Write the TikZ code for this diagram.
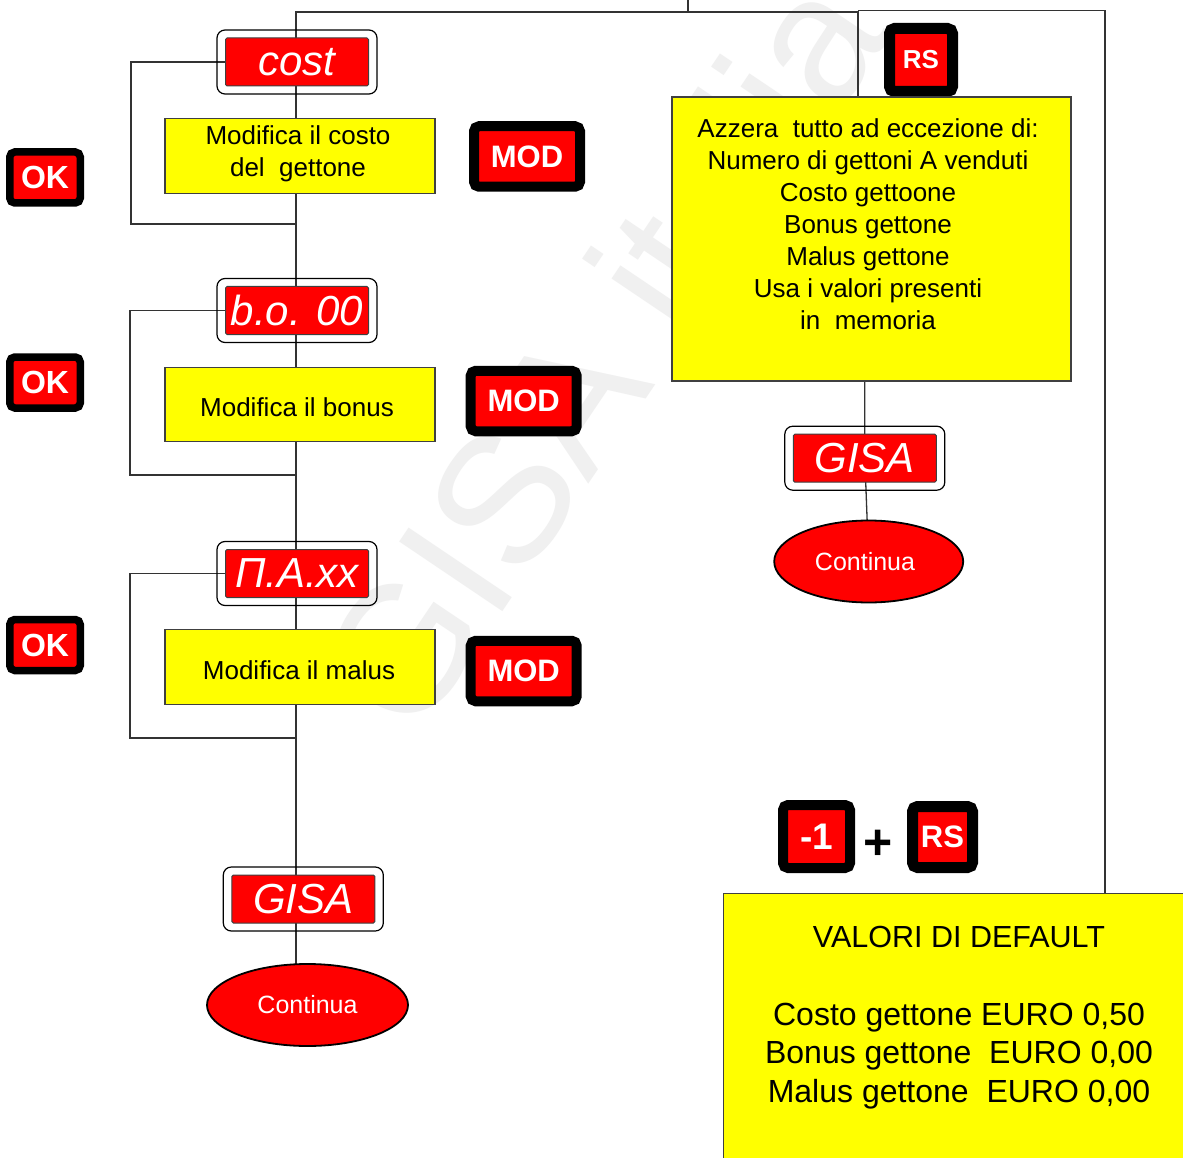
\documentclass[tikz,border=0pt]{standalone}
\usepackage{fontspec}
\setmainfont{Liberation Sans}
\usetikzlibrary{shapes.geometric,backgrounds}
\newcommand\myfs[2]{\fontsize{#1}{#2}\selectfont}
\definecolor{yel}{RGB}{255,255,0}
\definecolor{rd}{RGB}{255,0,0}
\begin{document}
\begin{tikzpicture}[x=1pt,y=-1pt,
 ln/.style={draw=black!80,line width=1.3pt},
 ybox/.style={draw=black!75,line width=1.2pt,fill=yel,inner sep=0pt,minimum width=270pt,minimum height=74.5pt},
 dispout/.style={draw=black,line width=1.2pt,rounded corners=8pt,minimum width=160pt,minimum height=64pt,inner sep=0pt},
 dispin/.style={draw=black!75,line width=1pt,fill=rd,rounded corners=1.5pt,minimum width=143pt,minimum height=48pt,inner sep=0pt,text=white,font=\itshape\myfs{42}{42}},
 btn/.style={fill=rd,draw=black,rounded corners=5pt,inner sep=0pt,text=white,font=\bfseries\myfs{30}{30}},
 okbtn/.style={btn,line width=7.5pt,minimum width=70.5pt,minimum height=51pt,font=\bfseries\myfs{32}{32}},
 modbtn/.style={btn,line width=10pt,minimum width=106pt,minimum height=60.5pt,font=\bfseries\myfs{31}{31}},
 endell/.style={ellipse,fill=rd,draw=black,line width=1.8pt,inner sep=0pt,text=white,font=\myfs{25}{25}},
 txt/.style={font=\myfs{26}{32},align=center,inner sep=0pt},
 wmark/.style={text=black!6,font=\myfs{181}{181},inner sep=0pt}
]
\useasboundingbox (0,0) rectangle (1183,1158);
\clip (0,0) rectangle (1183,1158);

% left column
\node[dispout] (c0o) at (297,62) {};
\node[dispin] (c0) at (297,62) {cost};
\node[ybox] (y0) at (300,156) {};
\node[txt] (t0) at (298,154) {Modifica il costo\\del\ \ gettone};
\node[okbtn] (ok0) at (45,177.5) {OK};
\node[modbtn] (m0) at (527,156.5) {MOD};

\node[dispout] (c1o) at (297,310.5) {};
\node[dispin] (c1) at (297,310.5) {b.o. 00};
\node[ybox] (y1) at (300,404.6) {};
\node[txt] (t1) at (297,407) {Modifica il bonus};
\node[okbtn] (ok1) at (45,382.5) {OK};
\node[modbtn] (m1) at (523.7,401) {MOD};

\node[dispout] (c2o) at (297,573.5) {};
\node[dispin] (c2) at (297,573.5) {Π.A.xx};
\node[ybox] (y2) at (300,667) {};
\node[txt] (t2) at (299,670) {Modifica il malus};
\node[okbtn] (ok2) at (45,645) {OK};
\node[modbtn] (m2) at (523.7,671) {MOD};

\node[dispout] (gLo) at (303.3,899) {};
\node[dispin] (gL) at (303.3,899) {GISA};
\node[endell,minimum width=201pt,minimum height=82pt] (ellL) at (307.5,1005) {Continua};

% right column
\node[btn,line width=11pt,minimum width=63pt,minimum height=63pt,font=\bfseries\myfs{26}{26}] (rs0) at (921,60) {RS};
\node[ybox,minimum width=399pt,minimum height=284pt] (yR) at (871.5,239) {};
\node[txt] (tR) at (868,224) {Azzera\ \ tutto ad eccezione di:\\Numero di gettoni A venduti\\Costo gettoone\\Bonus gettone\\Malus gettone\\Usa i valori presenti\\in\ \ memoria};
\node[dispout] (gRo) at (864.8,458.2) {};
\node[dispin] (gR) at (864.8,458.2) {GISA};
\node[endell,minimum width=189pt,minimum height=82pt] (ellR) at (868.7,561.5) {};
\node[font=\myfs{25}{25},text=white,inner sep=0pt] (tcR) at (865,561.5) {Continua};

\node[btn,line width=10pt,minimum width=67pt,minimum height=63pt,font=\bfseries\myfs{37}{37}] (m1b) at (816.5,836.5) {-1};
\node[font=\bfseries\myfs{50}{50},inner sep=0pt] (plus) at (878,845) {+};
\node[btn,line width=11pt,minimum width=60pt,minimum height=61pt,font=\bfseries\myfs{31}{31}] (rs1) at (942.5,837) {RS};

\node[draw=black!75,line width=1.2pt,fill=yel,anchor=north west,minimum width=480pt,minimum height=280pt] (def) at (723,893) {};
\node[font=\myfs{30.5}{30.5},inner sep=0pt] (deft) at (959,937) {VALORI DI DEFAULT};
\node[txt,font=\myfs{32}{38.5}] (defv) at (959,1056) {Costo gettone EURO 0,50\\Bonus gettone\ \ EURO 0,00\\Malus gettone\ \ EURO 0,00};

% background: watermark and connectors
\begin{scope}[on background layer]
\fill[white] (0,0) rectangle (1183,1158);
\node[wmark,rotate=56] (wm) at (600,352) {GISA italia};
\coordinate (tl) at (296,12);
\coordinate (tm) at (858,12);
\coordinate (tk) at (688,0);
\coordinate (tr0) at (858,10.5);
\coordinate (tr) at (1105,10.5);
\draw[ln] (tk) -- (tk |- tl);
\draw[ln] (tl |- ellL.center) -- (tl) -- (tm) -- (tm |- yR.north);
\draw[ln] (tr0) -- (tr) -- (tr |- def.north);
\coordinate (k1) at (131,224);
\coordinate (k2) at (130,475);
\coordinate (k3) at (130,738);
\draw[ln] (c0.west) -| (k1) -- (k1 -| tl);
\draw[ln] (c1.west) -| (k2) -- (k2 -| tl);
\draw[ln] (c2.west) -| (k3) -- (k3 -| tl);
\draw[ln] (gR.center |- yR.south) -- (gR.center) -- (ellR.center);
\end{scope}
\end{tikzpicture}
\end{document}
